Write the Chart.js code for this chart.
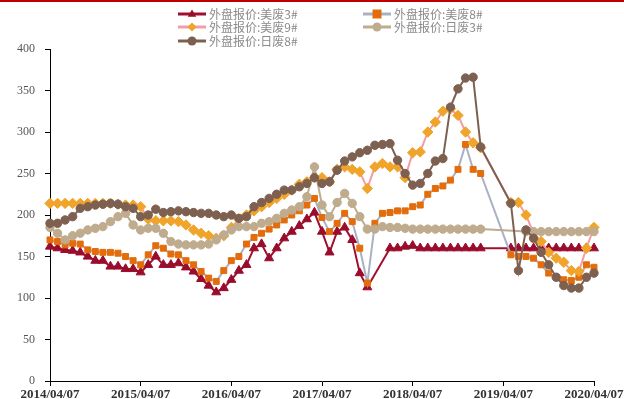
<!DOCTYPE html>
<html>
<head>
<meta charset="utf-8">
<script src="https://cdn.jsdelivr.net/npm/chart.js@4.4.1/dist/chart.umd.min.js"></script>
<style>
  html, body { margin: 0; padding: 0; background: #fff; overflow: hidden; }
  #wrap { position: absolute; left: 0; top: 0; width: 624px; height: 399px; }
  #topline { position: absolute; left: 0; top: 0; width: 624px; height: 2px; background: #c00000; }
</style>
</head>
<body>
<div id="wrap"><canvas id="myChart" width="624" height="399"></canvas></div>
<div id="topline"></div>
<script>
// monthly dates, 2014/04/07 .. 2020/04/07
var dates = [];
for (var m = 0; m <= 72; m++) {
    var mo = (3 + m) % 12 + 1;
    var yr = 2014 + Math.floor((3 + m) / 12);
    dates.push(yr + '/' + (mo < 10 ? '0' + mo : mo) + '/07');
}

var seriesNames = ['外盘报价:美废3#', '外盘报价:美废8#', '外盘报价:美废9#', '外盘报价:日废3#', '外盘报价:日废8#'];

var us3 = [162,160,158,157,155,150,145,145,138,138,135,135,131,
    140,150,140,140,142,137,132,123,115,107,112,122,133,140,
    160,165,148,160,172,180,187,195,203,180,155,180,185,170,130,113,
    null,null,
    160,160,162,163,160,160,160,160,160,160,160,160,160,
    null,null,null,
    160,160,160,160,160,160,160,160,160,160,160,160];

var us8 = [170,168,164,166,165,158,156,155,155,154,150,145,140,
    152,163,160,153,152,145,140,132,124,120,133,145,150,165,
    173,178,183,188,194,200,205,212,220,197,180,190,202,192,160,118,
    190,202,203,205,205,210,212,225,232,235,242,255,285,255,250,
    null,null,null,
    152,150,150,148,140,130,125,122,121,125,140,137];

var us9 = [214,214,214,214,214,214,214,214,214,213,212,212,210,
    195,193,193,193,192,188,182,178,175,172,175,185,195,200,
    205,210,215,220,225,230,237,240,245,245,240,255,258,255,252,232,
    258,262,258,258,245,275,276,300,312,325,328,320,300,287,281,
    null,null,null,
    215,215,200,178,168,155,148,143,133,132,160,185];

var jp3 = [185,178,170,175,178,182,184,186,192,198,202,188,182,
    184,184,178,168,165,164,164,164,165,170,176,182,186,186,
    186,190,192,196,202,206,210,222,258,212,198,215,226,214,198,183,
    183,186,185,185,184,183,183,183,183,183,183,183,183,183,183,
    null,null,null,null,null,
    180,180,180,180,180,180,180,180,180,180];

var jp8 = [190,190,194,198,208,210,212,213,214,213,210,208,198,
    200,207,203,204,205,204,203,202,202,200,198,200,196,198,
    210,215,220,225,230,230,234,238,245,238,240,254,265,270,275,278,
    284,285,286,266,250,236,238,250,265,268,330,352,365,366,282,
    null,null,null,
    214,133,182,172,155,140,125,115,112,112,125,130];

var lineColors = ['#a0102e', '#a9b1c2', '#f49ca4', '#bfab8d', '#7e6051'];
var markColors = ['#9a0c2c', '#e46c0a', '#f0a42a', '#bfab8d', '#7e6051'];
var markShapes = ['triangle', 'rect', 'rectRot', 'circle', 'circle'];
var markSizes = [5.2, 4.2, 5.2, 4.2, 4.2];

function makeSet(i, values) {
    return {
        label: seriesNames[i],
        data: values,
        borderColor: lineColors[i],
        borderWidth: 2,
        pointStyle: markShapes[i],
        pointRadius: markSizes[i],
        pointBackgroundColor: markColors[i],
        pointBorderColor: markColors[i],
        pointBorderWidth: 1,
        order: 4 - i,
        tension: 0
    };
}

function drawMark(ctx, shape, x, y, r, color) {
    ctx.fillStyle = color;
    ctx.beginPath();
    if (shape == 'triangle') {
        ctx.moveTo(x, y - r);
        ctx.lineTo(x + r * 0.95, y + r * 0.6);
        ctx.lineTo(x - r * 0.95, y + r * 0.6);
    } else if (shape == 'rect') {
        ctx.rect(x - r, y - r, 2 * r, 2 * r);
    } else if (shape == 'rectRot') {
        ctx.moveTo(x, y - r);
        ctx.lineTo(x + r, y);
        ctx.lineTo(x, y + r);
        ctx.lineTo(x - r, y);
    } else {
        ctx.arc(x, y, r, 0, Math.PI * 2);
    }
    ctx.closePath();
    ctx.fill();
}

// two-column legend above the plot
var legendSpots = [[178, 14], [363, 14], [178, 27], [363, 27], [178, 41]];
var legendBlock = {
    id: 'legendBlock',
    afterDraw: function(chart) {
        var ctx = chart.ctx;
        ctx.save();
        for (var i = 0; i < seriesNames.length; i++) {
            var x = legendSpots[i][0], y = legendSpots[i][1];
            ctx.strokeStyle = lineColors[i];
            ctx.lineWidth = 3;
            ctx.beginPath();
            ctx.moveTo(x, y);
            ctx.lineTo(x + 28, y);
            ctx.stroke();
            drawMark(ctx, markShapes[i], x + 14, y, 4.5, markColors[i]);
            ctx.fillStyle = '#8a8a8a';
            ctx.font = '12px "Noto Sans CJK SC"';
            ctx.textBaseline = 'middle';
            ctx.fillText(seriesNames[i], x + 31, y);
        }
        ctx.restore();
    }
};

var ctx = document.getElementById('myChart').getContext('2d');
var myChart = new Chart(ctx, {
    type: 'line',
    data: {
        labels: dates,
        datasets: [makeSet(0, us3), makeSet(1, us8), makeSet(2, us9), makeSet(3, jp3), makeSet(4, jp8)]
    },
    options: {
        responsive: false,
        animation: false,
        spanGaps: true,
        layout: { padding: { top: 49, left: 0, right: 0, bottom: 0 } },
        plugins: { legend: { display: false }, tooltip: { enabled: false } },
        scales: {
            x: {
                grid: { drawOnChartArea: false, tickLength: 5, color: '#000' },
                border: { color: '#000', width: 1 },
                ticks: {
                    autoSkip: false,
                    maxRotation: 0,
                    padding: 1,
                    color: '#333',
                    font: { family: 'Liberation Serif', size: 13, weight: 'bold' },
                    callback: function(v, i) {
                        return i % 12 === 0 ? this.getLabelForValue(v) : null;
                    }
                },
                afterFit: function(scale) {
                    // last date label runs off the right edge
                    scale.paddingRight = 30;
                    scale.paddingLeft = 0;
                    scale.height = 18;
                }
            },
            y: {
                min: 0,
                max: 400,
                grid: { drawOnChartArea: false, tickLength: 5, color: '#000' },
                border: { color: '#000', width: 1 },
                ticks: {
                    stepSize: 50,
                    padding: 10,
                    color: '#555',
                    font: { family: 'Liberation Serif', size: 12 }
                },
                afterFit: function(scale) {
                    scale.width = 50;
                    scale.paddingTop = 0;
                    scale.paddingBottom = 0;
                }
            }
        }
    },
    plugins: [legendBlock]
});
</script>
</body>
</html>
